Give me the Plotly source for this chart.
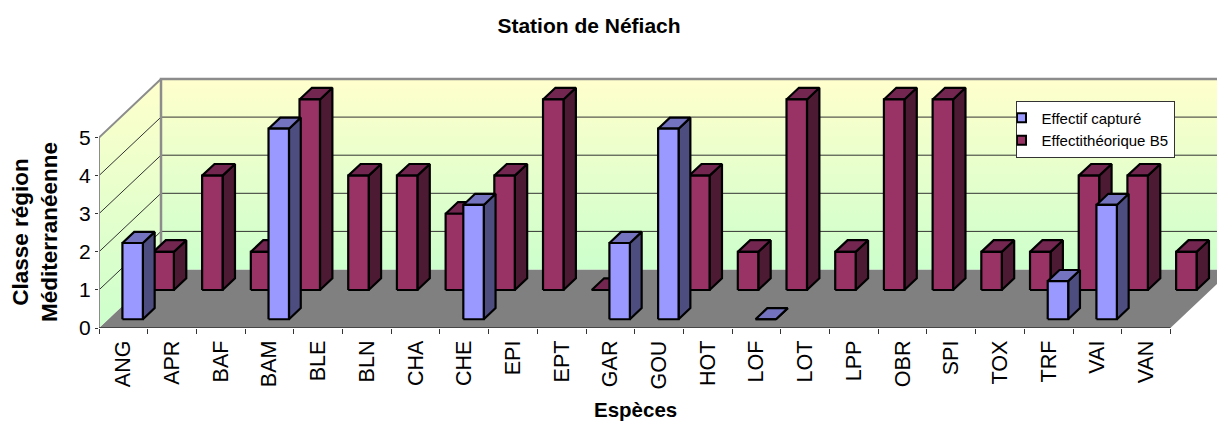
import plotly.graph_objects as go

especes = ["ANG", "APR", "BAF", "BAM", "BLE", "BLN", "CHA", "CHE", "EPI", "EPT", "GAR",
           "GOU", "HOT", "LOF", "LOT", "LPP", "OBR", "SPI", "TOX", "TRF", "VAI", "VAN"]
effectif_capture = [2, None, None, 5, None, None, None, 3, None, None, 2,
                    5, None, 0, None, None, None, None, None, 1, 3, None]
effectif_theorique = [1, 3, 1, 5, 3, 3, 2, 3, 5, 0, None,
                      3, 1, 5, 1, 5, 5, 1, 1, 3, 3, 1]

FONT = "Liberation Sans, Arial, sans-serif"

# oblique projection of the excel 3d box, in axis units
PX_X = 48.7
PX_Y = 38.1
DEPTH_X = 62 / PX_X
DEPTH_Y = 58.5 / PX_Y
BAR_W = 0.42
YMAX = 5
n = len(especes)

# the page body has an 8px margin, so the figure is 8px smaller than the window
W, H = 1217, 415
L, T, B = 91, 62, 95


def xp(px):
    return (px - 8 - L) / (W - L)


def yp(py):
    return 1 - (py - 8 - T) / (H - T - B)


def proj(x, v, d):
    return x + d * DEPTH_X, v + d * DEPTH_Y


def poly(points):
    xs, ys = [], []
    for x, v, d in points + points[:1]:
        px, py = proj(x, v, d)
        xs.append(px)
        ys.append(py)
    return xs, ys


def add_poly(fig, points, **kwargs):
    xs, ys = poly(points)
    fig.add_trace(go.Scatter(x=xs, y=ys, mode="lines", fill="toself", showlegend=False,
                             hoverinfo="skip", **kwargs))


def add_bars(fig, values, d0, d1, front, side, top):
    faces = {"side": ([], []), "top": ([], []), "front": ([], [])}
    for i, v in enumerate(values):
        if v is None:
            continue
        x0 = i + (1 - BAR_W) / 2
        x1 = x0 + BAR_W
        shapes = {
            "side": [(x1, 0, d0), (x1, 0, d1), (x1, v, d1), (x1, v, d0)],
            "top": [(x0, v, d0), (x1, v, d0), (x1, v, d1), (x0, v, d1)],
            "front": [(x0, 0, d0), (x1, 0, d0), (x1, v, d0), (x0, v, d0)],
        }
        for key, pts in shapes.items():
            xs, ys = poly(pts)
            faces[key][0].extend(xs + [None])
            faces[key][1].extend(ys + [None])
    for key, color in (("side", side), ("top", top), ("front", front)):
        fig.add_trace(go.Scatter(x=faces[key][0], y=faces[key][1], mode="lines", fill="toself",
                                 fillcolor=color, line=dict(color="black", width=2.2),
                                 showlegend=False, hoverinfo="skip"))


fig = go.Figure()

# floor
add_poly(fig, [(0, 0, 0), (n, 0, 0), (n, 0, 1), (0, 0, 1)], fillcolor="#808080",
         line=dict(color="#808080", width=0))

# walls
wall_gradient = dict(type="vertical", colorscale=[[0, "#CCFFCC"], [1, "#FFFFCC"]])
add_poly(fig, [(0, 0, 0), (0, 0, 1), (0, YMAX, 1), (0, YMAX, 0)], fillgradient=wall_gradient,
         line=dict(color="#808080", width=0))
add_poly(fig, [(0, 0, 1), (n, 0, 1), (n, YMAX, 1), (0, YMAX, 1)], fillgradient=wall_gradient,
         line=dict(color="#808080", width=0))

# grid lines
for v in range(1, YMAX):
    xs, ys = zip(*[proj(0, v, 0), proj(0, v, 1), proj(n, v, 1)])
    fig.add_trace(go.Scatter(x=xs, y=ys, mode="lines", line=dict(color="#333333", width=1),
                             showlegend=False, hoverinfo="skip"))

# wall edges
xs, ys = zip(*[proj(0, 0, 1), proj(0, YMAX, 1), proj(n, YMAX, 1)])
fig.add_trace(go.Scatter(x=xs, y=ys, mode="lines", line=dict(color="#8C8C8C", width=2.5),
                         showlegend=False, hoverinfo="skip"))
xs, ys = zip(*[proj(0, 0, 0), proj(0, YMAX, 0), proj(0, YMAX, 1)])
fig.add_trace(go.Scatter(x=xs, y=ys, mode="lines", line=dict(color="#8C8C8C", width=2),
                         showlegend=False, hoverinfo="skip"))

# back row first, then the front row over it
add_bars(fig, effectif_theorique, 0.65, 0.85, "#993366", "#4D1A33", "#732650")
add_bars(fig, effectif_capture, 0.15, 0.34, "#9999FF", "#4D4D80", "#7373BF")

# front edge of floor
fig.add_trace(go.Scatter(x=[0, n], y=[0, 0], mode="lines", line=dict(color="#333333", width=1.5),
                         showlegend=False, hoverinfo="skip"))

# legend entries
fig.add_trace(go.Scatter(x=[None], y=[None], mode="markers", name="Effectif capturé",
                         marker=dict(symbol="square", size=9, color="#9999FF",
                                     line=dict(color="black", width=2))))
fig.add_trace(go.Scatter(x=[None], y=[None], mode="markers", name="Effectithéorique B5",
                         marker=dict(symbol="square", size=9, color="#993366",
                                     line=dict(color="black", width=2))))

fig.update_layout(
    width=W, height=H, autosize=False,
    margin=dict(l=L, r=0, t=T, b=B, pad=0),
    paper_bgcolor="white", plot_bgcolor="white",
    font=dict(family=FONT, color="black"),
    title=dict(text="<b>Station de Néfiach</b>", font=dict(size=21, color="black"),
               x=(589 - 8) / W, xanchor="center", y=1 - (26 - 8) / H, yanchor="middle"),
    legend=dict(x=xp(1015.5), y=yp(100.5), xanchor="left", yanchor="top",
                bgcolor="white", bordercolor="#333333", borderwidth=1,
                font=dict(size=15, color="black"), itemwidth=30, indentation=-15,
                tracegroupgap=0),
    xaxis=dict(
        range=[0, (W - L) / PX_X], showgrid=False, zeroline=False, showline=False,
        tickmode="array", tickvals=[i + 0.5 for i in range(n)], ticktext=especes,
        tickangle=-90, tickfont=dict(size=21.5, color="black"),
        ticks="outside", ticklen=3, tickcolor="rgba(0,0,0,0)",
        minor=dict(tickmode="array", tickvals=list(range(n + 1)), ticks="outside",
                   ticklen=5, tickcolor="#333333", tickwidth=1),
    ),
    yaxis=dict(
        range=[0, (H - T - B) / PX_Y], showgrid=False, zeroline=False, showline=False,
        tickmode="array", tickvals=list(range(YMAX + 1)),
        tickfont=dict(size=21, color="black"),
        ticks="outside", ticklen=3, tickcolor="#333333",
    ),
    annotations=[
        dict(text="<b>Espèces</b>", x=xp(635), y=yp(409), xref="paper", yref="paper",
             xanchor="center", yanchor="middle", showarrow=False, font=dict(size=20.5, color="black")),
        dict(text="<b>Classe région<br>Méditerranéenne</b>", textangle=-90, x=xp(35), y=yp(232),
             xref="paper", yref="paper", xanchor="center", yanchor="middle", showarrow=False,
             font=dict(size=22.5, color="black")),
    ],
)

fig.write_html("out.html")
